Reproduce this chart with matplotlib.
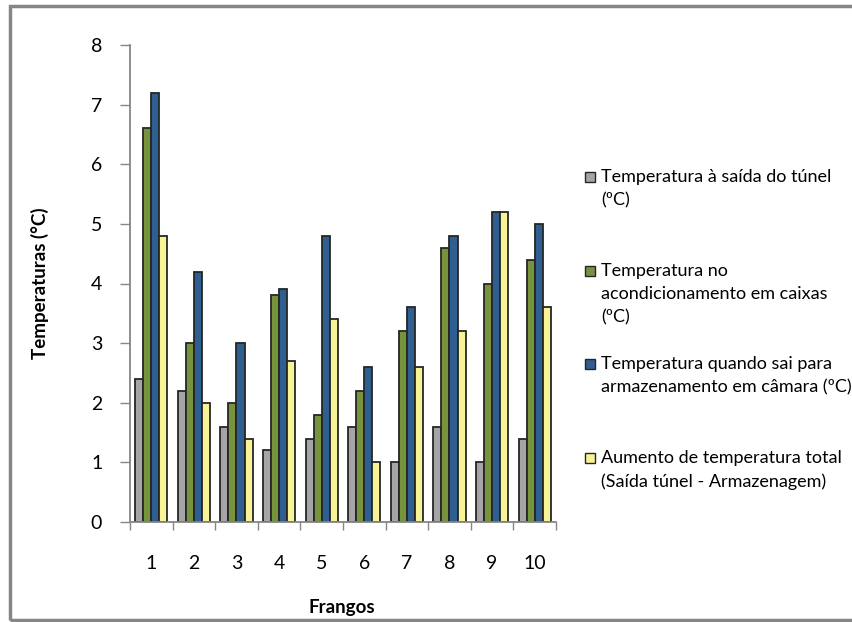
import matplotlib.pyplot as plt
import numpy as np
from matplotlib.patches import Rectangle

plt.rcParams['font.family'] = ['Lato', 'DejaVu Sans']

frangos = ['1', '2', '3', '4', '5', '6', '7', '8', '9', '10']
saida_tunel = [2.4, 2.2, 1.6, 1.2, 1.4, 1.6, 1.0, 1.6, 1.0, 1.4]
acondicionamento = [6.6, 3.0, 2.0, 3.8, 1.8, 2.2, 3.2, 4.6, 4.0, 4.4]
armazenamento = [7.2, 4.2, 3.0, 3.9, 4.8, 2.6, 3.6, 4.8, 5.2, 5.0]
aumento = [4.8, 2.0, 1.4, 2.7, 3.4, 1.0, 2.6, 3.2, 5.2, 3.6]

series = [saida_tunel, acondicionamento, armazenamento, aumento]
labels = ['Temperatura à saída do túnel\n(ºC)',
          'Temperatura no\nacondicionamento em caixas\n(ºC)',
          'Temperatura quando sai para\narmazenamento em câmara (ºC)',
          'Aumento de temperatura total\n(Saída túnel - Armazenagem)']
colors = ['#A5A5A8', '#77933C', '#2F5E91', '#F7F396']
grey = '#868686'

fig = plt.figure(figsize=(8.53, 6.22), dpi=100)
ax = fig.add_axes([130 / 853, 1 - 522 / 622, 426 / 853, 477 / 622])

x = np.arange(1, len(frangos) + 1)
w = 0.19
for i, (vals, c) in enumerate(zip(series, colors)):
    ax.bar(x + (i - 1.5) * w, vals, w, color=c, edgecolor='#262626',
           linewidth=1.3)

ax.set_xlim(0.5, 10.5)
ax.set_ylim(0, 8)
ax.set_yticks(range(0, 9))
ax.set_xticks(x)
ax.set_xticklabels(frangos)
ax.set_xticks(np.arange(0.5, 11, 1), minor=True)
ax.tick_params(axis='x', which='major', length=0, pad=24, labelsize=14)
ax.tick_params(axis='x', which='minor', length=6, width=1, color=grey,
               direction='out')
ax.tick_params(axis='y', length=7, width=1, color=grey, pad=13,
               labelsize=14)
for s in ['top', 'right']:
    ax.spines[s].set_visible(False)
for s in ['left', 'bottom']:
    ax.spines[s].set_color(grey)
    ax.spines[s].set_linewidth(1.3)

fig.text(40 / 853, 1 - 283 / 622, 'Temperaturas (°C)', rotation=90,
         ha='center', va='center', fontsize=13.5, fontweight='bold')
fig.text(342 / 853, 1 - 607 / 622, 'Frangos', ha='center', va='center',
         fontsize=13.5, fontweight='bold')

# legend drawn by hand so entries are evenly spaced like the original
leg_y = [177, 271, 364, 458]
for yy, lab, c in zip(leg_y, labels, colors):
    fig.patches.append(Rectangle((585 / 853, 1 - (yy + 5) / 622),
                                 10 / 853, 10 / 622, transform=fig.transFigure,
                                 facecolor=c, edgecolor='#262626',
                                 linewidth=1))
    fig.text(601 / 853, 1 - (yy - 8) / 622, lab, ha='left', va='top',
             fontsize=13, linespacing=1.55)

fig.patches.append(Rectangle((10 / 853, 2 / 622), 900 / 853, 614 / 622,
                             transform=fig.transFigure, fill=False,
                             edgecolor=grey, linewidth=2.5))

fig.savefig('out.png', dpi=100)
